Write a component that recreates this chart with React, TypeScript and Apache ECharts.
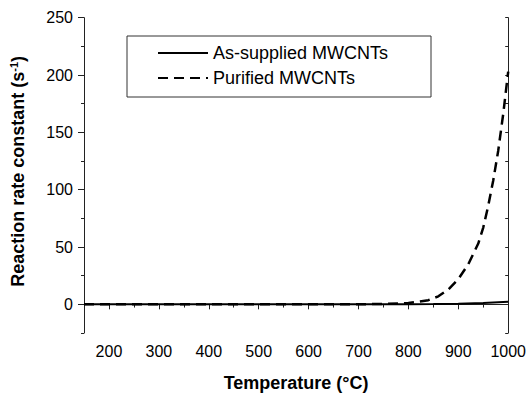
import React, { useEffect, useRef } from "react";
import * as echarts from "echarts";

const solidTemps = [150, 300, 450, 600, 700, 800, 850, 900, 950, 1000];
const solidRates = [0, 0, 0, 0, 0, 0.1, 0.3, 0.6, 1.2, 2.3];

const dashedTemps = [150, 300, 450, 600, 700, 750, 780, 800, 820, 840, 860, 880, 900, 920, 940, 950, 960, 970, 980, 990, 1000];
const dashedRates = [0, 0, 0, 0, 0.1, 0.3, 0.7, 1.2, 2.2, 3.6, 7.0, 13, 22, 35, 53, 67, 86, 108, 134, 166, 203];

const xMajor = [200, 300, 400, 500, 600, 700, 800, 900, 1000];
const xMinor = [150, 250, 350, 450, 550, 650, 750, 850, 950];
const xTop = [150, 200, 250, 300, 350, 400, 450, 500, 550, 600, 650, 700, 750, 800, 850, 900, 950, 1000];
const yMajor = [0, 50, 100, 150, 200, 250];
const yMinor = [-25, 25, 75, 125, 175, 225];
const yRight = [-25, 0, 25, 50, 75, 100, 125, 150, 175, 200, 225, 250];

const seriesNames = ["As-supplied MWCNTs", "Purified MWCNTs"];

const FONT = "'Liberation Sans', Arial, Helvetica, sans-serif";
const AXIS_COLOR = "#222";

export default function App() {
  const ref = useRef<HTMLDivElement>(null);
  useEffect(() => {
    if (!ref.current) return;
    const chart = echarts.init(ref.current, null, { renderer: "svg" });
    const axisLine = { show: true, lineStyle: { color: AXIS_COLOR, width: 1 } };
    const xBase = { type: "value", min: 150, max: 1000, splitLine: { show: false }, gridIndex: 0 };
    const yBase = { type: "value", min: -25, max: 250, splitLine: { show: false }, gridIndex: 0 };
    chart.setOption({
      animation: false,
      textStyle: { fontFamily: FONT },
      grid: { left: 84, right: 18.5, top: 17.7, bottom: 62 },
      xAxis: [
        {
          ...xBase,
          position: "bottom",
          axisLine,
          axisTick: { show: true, length: 5, customValues: xMajor, lineStyle: { color: AXIS_COLOR } },
          axisLabel: {
            show: true,
            customValues: xMajor,
            fontSize: 16,
            color: "#000",
            margin: 10,
            fontFamily: FONT,
            formatter: (v: number) => String(v),
          },
          name: "Temperature (°C)",
          nameLocation: "middle",
          nameGap: 41,
          nameTextStyle: { fontSize: 18, fontWeight: "bold", color: "#000", fontFamily: FONT },
        },
        {
          ...xBase,
          position: "bottom",
          axisLine: { show: false },
          axisTick: { show: true, length: 3, customValues: xMinor, lineStyle: { color: AXIS_COLOR } },
          axisLabel: { show: false },
        },
        {
          ...xBase,
          position: "top",
          axisLine,
          axisTick: { show: true, inside: true, length: 3, customValues: xTop, lineStyle: { color: AXIS_COLOR } },
          axisLabel: { show: false },
        },
      ],
      yAxis: [
        {
          ...yBase,
          position: "left",
          axisLine,
          axisTick: { show: true, length: 6, customValues: yMajor, lineStyle: { color: AXIS_COLOR } },
          axisLabel: {
            show: true,
            customValues: yMajor,
            fontSize: 16,
            color: "#000",
            margin: 11,
            fontFamily: FONT,
            formatter: (v: number) => String(v),
          },
          name: "{a|Reaction rate constant (s}{sup|-1}{a|)}",
          nameLocation: "middle",
          nameGap: 56,
          nameRotate: 90,
          nameTextStyle: {
            color: "#000",
            padding: [0, 0, 0, 8],
            rich: {
              a: { fontSize: 18, fontWeight: "bold", color: "#000", fontFamily: FONT },
              sup: { fontSize: 11, fontWeight: "bold", color: "#000", fontFamily: FONT, padding: [0, 0, 9, 0] },
            },
          },
        },
        {
          ...yBase,
          position: "left",
          axisLine: { show: false },
          axisTick: { show: true, length: 3, customValues: yMinor, lineStyle: { color: AXIS_COLOR } },
          axisLabel: { show: false },
        },
        {
          ...yBase,
          position: "right",
          axisLine,
          axisTick: { show: true, inside: true, length: 3, customValues: yRight, lineStyle: { color: AXIS_COLOR } },
          axisLabel: { show: false },
        },
      ],
      legend: {
        orient: "vertical",
        left: 157,
        top: 44,
        padding: 0,
        itemGap: 7,
        itemWidth: 50,
        itemHeight: 18,
        data: seriesNames,
        itemStyle: { color: "rgba(0,0,0,0)", borderWidth: 0, opacity: 0 },
        textStyle: { fontSize: 18, color: "#000", fontFamily: FONT },
      },
      graphic: [
        {
          type: "rect",
          shape: { x: 127, y: 36, width: 304, height: 61 },
          style: { fill: "none", stroke: "#333", lineWidth: 1 },
          silent: true,
        },
      ],
      series: [
        {
          name: seriesNames[1],
          type: "line",
          xAxisIndex: 0,
          yAxisIndex: 0,
          data: dashedTemps.map((t, i) => [t, dashedRates[i]]),
          showSymbol: false,
          symbol: "none",
          smooth: false,
          lineStyle: { color: "#000", width: 2.5, type: [10, 6] },
          itemStyle: { color: "#000" },
          z: 2,
        },
        {
          name: seriesNames[0],
          type: "line",
          xAxisIndex: 0,
          yAxisIndex: 0,
          data: solidTemps.map((t, i) => [t, solidRates[i]]),
          showSymbol: false,
          symbol: "none",
          smooth: false,
          lineStyle: { color: "#000", width: 2, type: "solid" },
          itemStyle: { color: "#000" },
          z: 3,
        },
      ],
    });
    return () => chart.dispose();
  }, []);
  return (
    <div
      ref={ref}
      style={{ position: "fixed", left: 0, top: 0, width: 529, height: 397, background: "#fff" }}
    />
  );
}
